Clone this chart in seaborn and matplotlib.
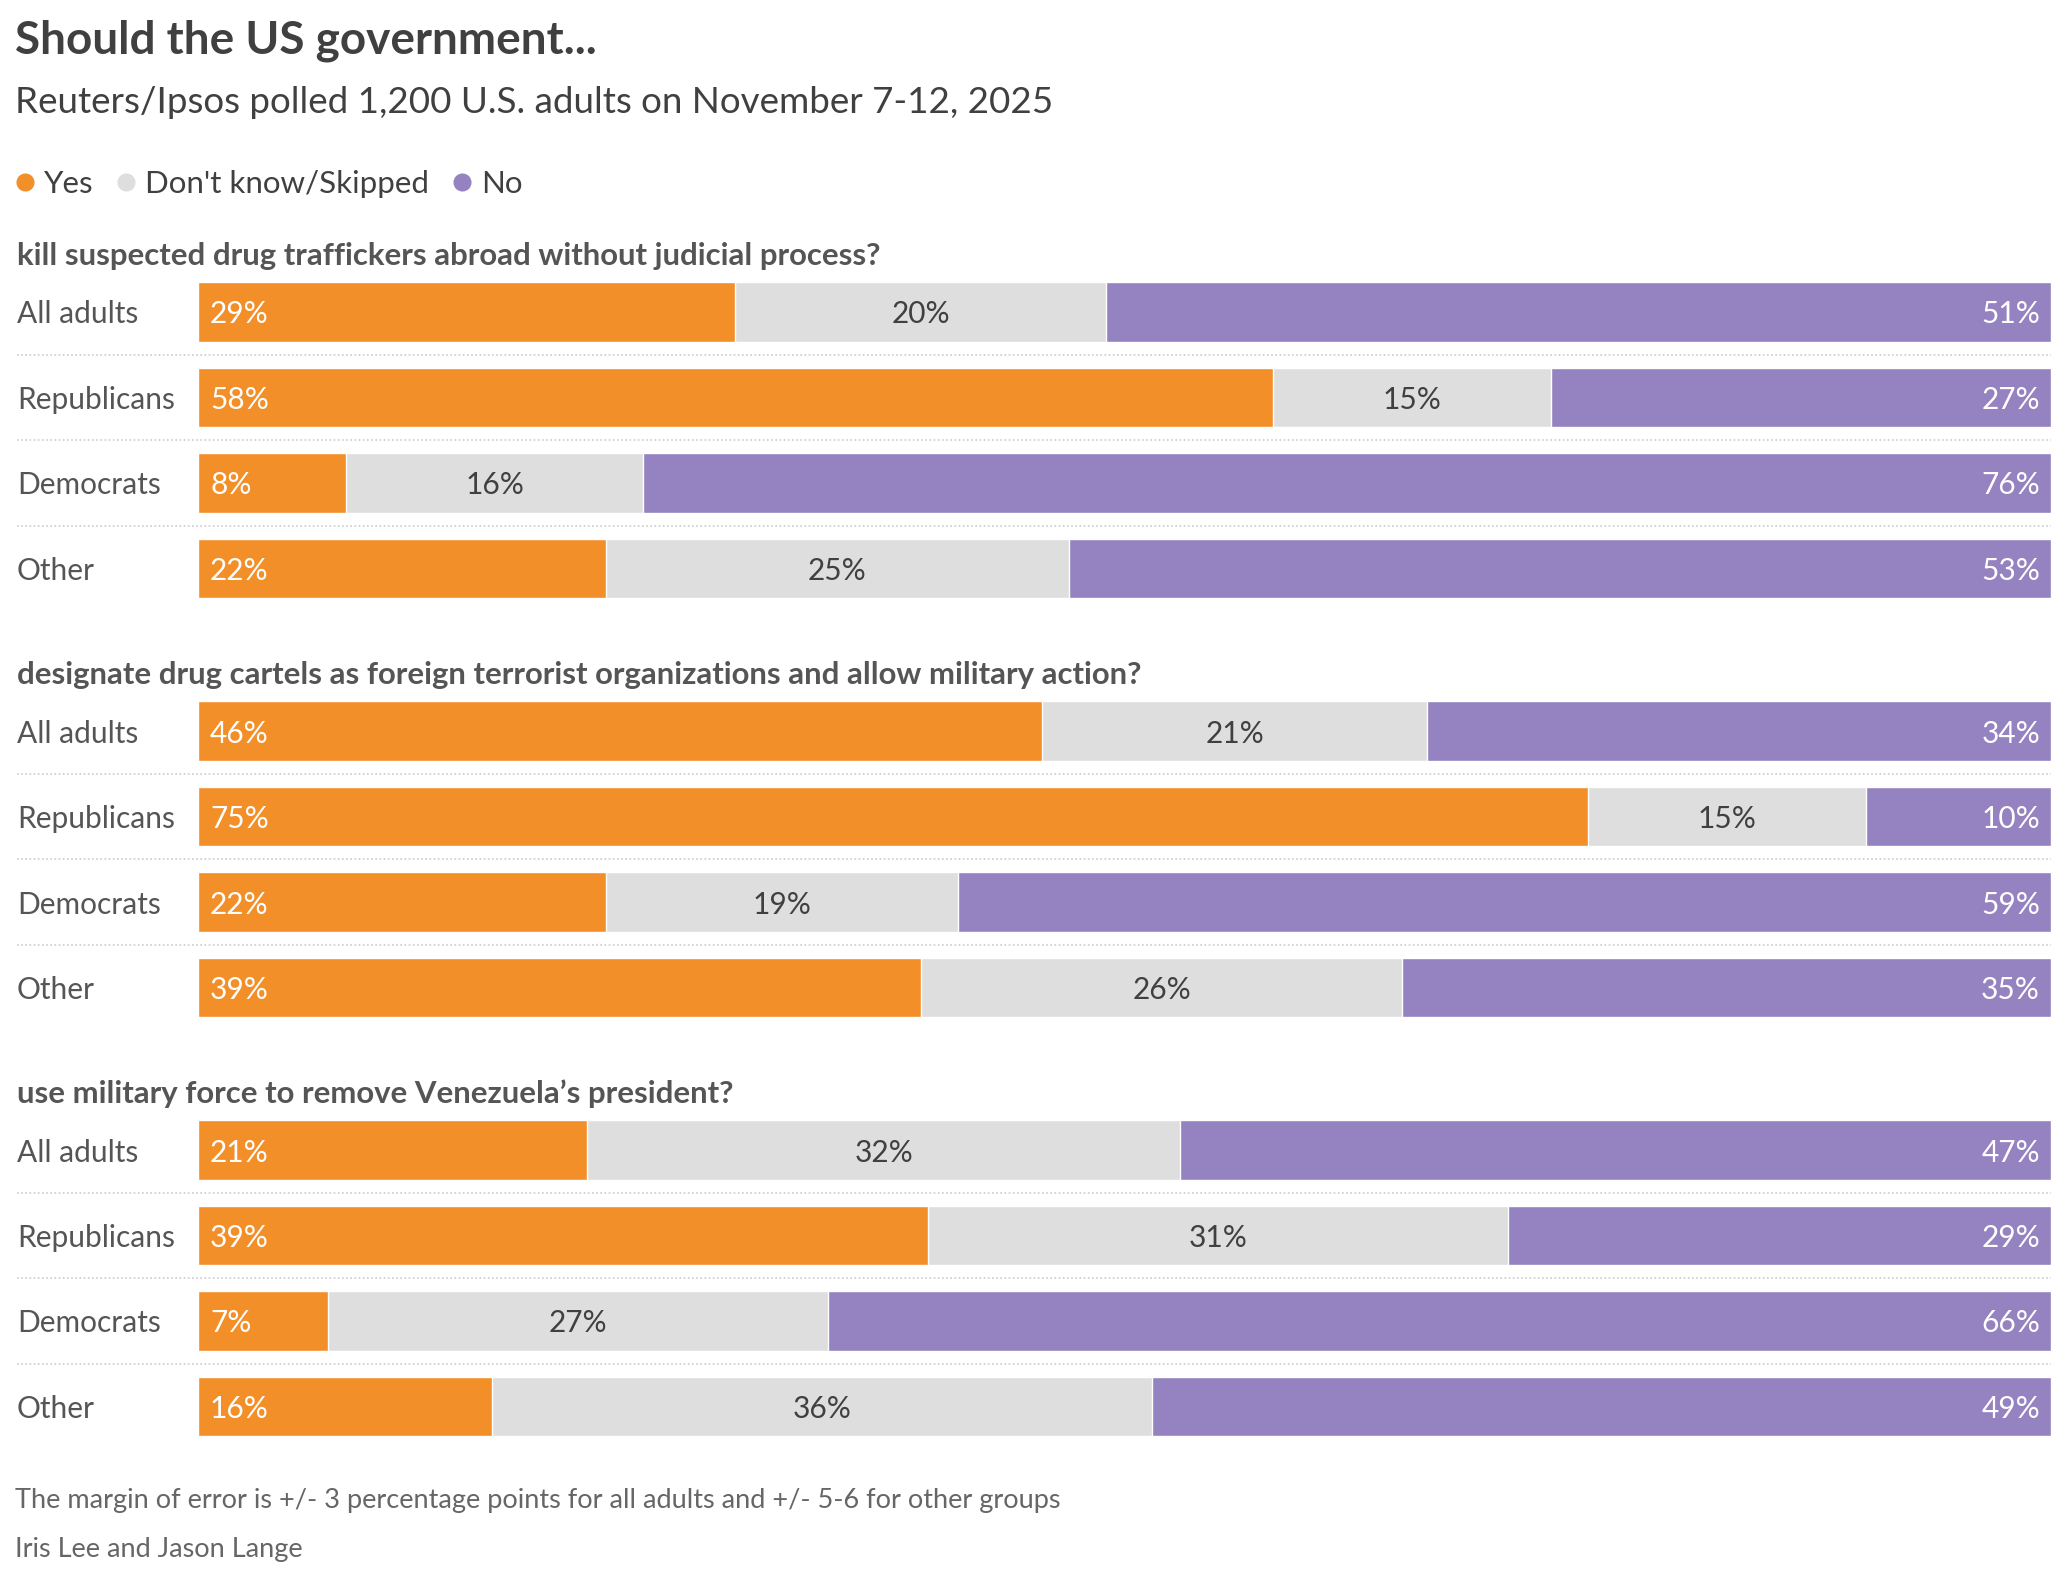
import matplotlib
matplotlib.use("Agg")
import matplotlib.pyplot as plt
import matplotlib.transforms as mtransforms
from matplotlib.lines import Line2D
import seaborn as sns
import pandas as pd

# survey data (percent)
groups = ["All adults", "Republicans", "Democrats", "Other"]
questions = [
    "kill suspected drug traffickers abroad without judicial process?",
    "designate drug cartels as foreign terrorist organizations and allow military action?",
    "use military force to remove Venezuela\u2019s president?",
]
yes = [[29, 58, 8, 22], [46, 75, 22, 39], [21, 39, 7, 16]]
dont_know = [[20, 15, 16, 25], [21, 15, 19, 26], [32, 31, 27, 36]]
no = [[51, 27, 76, 53], [34, 10, 59, 35], [47, 29, 66, 49]]

ORANGE = "#F28F28"
GREY = "#DEDEDE"
PURPLE = "#9582C0"
DARK = "#404040"
MID = "#555555"

sns.set_style("white")
plt.rcParams["font.family"] = ["Lato", "DejaVu Sans"]

W, H = 2065, 1576
fig = plt.figure(figsize=(W / 100, H / 100), dpi=100)

def fx(px):
    return px / W

def fy(py):
    return 1 - py / H

# header
fig.text(fx(15), fy(54), "Should the US government...", fontsize=33,
         fontweight="bold", color=DARK, va="baseline")
fig.text(fx(15), fy(113), "Reuters/Ipsos polled 1,200 U.S. adults on November 7-12, 2025",
         fontsize=26.5, color=DARK, va="baseline")

handles = [Line2D([], [], marker="o", ls="", color=c, markersize=12)
           for c in [ORANGE, GREY, PURPLE]]
fig.legend(handles, ["Yes", "Don't know/Skipped", "No"], loc="center left",
           bbox_to_anchor=(fx(-6), fy(184)), ncol=3, frameon=False,
           fontsize=22.5, handletextpad=0.1, columnspacing=0.55,
           labelcolor=DARK, borderpad=0, handlelength=1.0)

bar_left, bar_right = 198, 2051
pitch = 85.5
for i, q in enumerate(questions):
    top = 269.25 + 419 * i
    ax = fig.add_axes([fx(bar_left), fy(top + 4 * pitch),
                       fx(bar_right - bar_left), 4 * pitch / H])
    df = pd.DataFrame({"group": groups, "yes": yes[i], "dk": dont_know[i], "no": no[i]})
    # bars are scaled so that every row fills the full width
    total = df["yes"] + df["dk"] + df["no"]
    df["yes_share"] = df["yes"] / total * 100
    df["yes_dk_share"] = (df["yes"] + df["dk"]) / total * 100
    df["full"] = 100.0
    # stacked by overlaying cumulative bars
    sns.barplot(data=df, x="full", y="group", color=PURPLE, saturation=1,
                width=0.70, errorbar=None, ax=ax)
    sns.barplot(data=df, x="yes_dk_share", y="group", color=GREY, saturation=1,
                width=0.70, errorbar=None, ax=ax)
    sns.barplot(data=df, x="yes_share", y="group", color=ORANGE, saturation=1,
                width=0.70, errorbar=None, ax=ax)
    ax.set_xlim(0, 100)
    ax.set_ylim(3.5, -0.5)
    ax.axis("off")

    tr = mtransforms.blended_transform_factory(fig.transFigure, ax.transData)
    fig.text(fx(17), fy(top - 4.5), q, fontsize=22.4, fontweight="bold",
             color=MID, va="baseline")
    for j, g in enumerate(groups):
        ax.text(fx(17), j, g, transform=tr, fontsize=21.5, color=MID,
                va="center_baseline")
        ax.annotate(f"{yes[i][j]}%", (0, j), xytext=(12, 0), textcoords="offset pixels",
                    fontsize=21.5, color="white", va="center_baseline", ha="left")
        mid = (df["yes_share"][j] + df["yes_dk_share"][j]) / 2
        ax.annotate(f"{dont_know[i][j]}%", (mid, j),
                    fontsize=21.5, color=DARK, va="center_baseline", ha="center")
        ax.annotate(f"{no[i][j]}%", (100, j), xytext=(-11, 0), textcoords="offset pixels",
                    fontsize=21.5, color="white", va="center_baseline", ha="right")
    for s in [0.5, 1.5, 2.5]:
        ax.plot([fx(17), fx(bar_right)], [s, s], transform=tr, color="#CCCCCC",
                lw=1.2, ls=(0, (1, 1.5)), clip_on=False)

fig.text(fx(15), fy(1508),
         "The margin of error is +/- 3 percentage points for all adults and +/- 5-6 for other groups",
         fontsize=19.5, color="#666666", va="baseline")
fig.text(fx(15), fy(1557), "Iris Lee and Jason Lange", fontsize=19.5,
         color="#666666", va="baseline")

fig.savefig("out.png", dpi=100)
